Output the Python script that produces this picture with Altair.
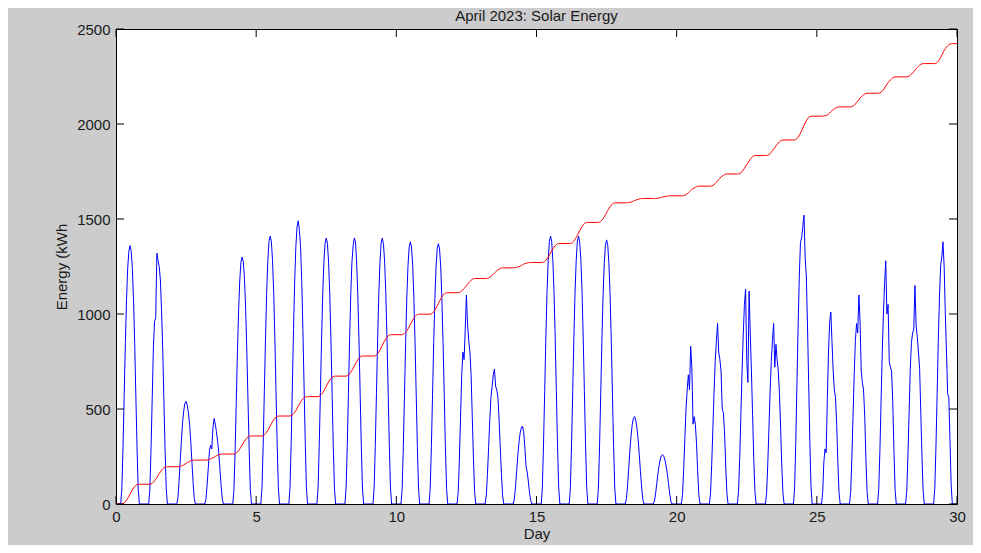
import altair as alt
import pandas as pd

# ---------------- data ----------------
days = list(range(30))
hours = list(range(5, 20))  # daylight hours with non-zero output

# hourly solar output (h5 .. h19) for each day of April 2023
blue_profiles = [
    [80, 300, 570, 845, 1075, 1240, 1330, 1360, 1330, 1240, 1075, 845, 570, 300, 80],
    [80, 290, 555, 820, 960, 980, 1320, 1280, 1250, 1180, 1020, 810, 550, 290, 80],
    [30, 120, 230, 335, 430, 490, 530, 540, 520, 480, 420, 330, 220, 115, 30],
    [25, 100, 190, 280, 310, 290, 400, 450, 420, 380, 330, 270, 180, 95, 25],
    [78, 286, 546, 806, 1027, 1183, 1274, 1300, 1274, 1183, 1027, 806, 546, 286, 78],
    [85, 310, 592, 874, 1114, 1283, 1382, 1410, 1382, 1283, 1114, 874, 592, 310, 85],
    [89, 328, 626, 924, 1177, 1356, 1460, 1490, 1440, 1356, 1177, 924, 626, 328, 89],
    [84, 308, 588, 868, 1106, 1274, 1372, 1400, 1372, 1274, 1106, 868, 588, 308, 84],
    [84, 308, 588, 868, 1106, 1274, 1360, 1400, 1380, 1274, 1106, 868, 588, 308, 84],
    [84, 308, 588, 868, 1106, 1274, 1375, 1400, 1365, 1274, 1106, 868, 588, 308, 84],
    [83, 304, 580, 856, 1090, 1256, 1352, 1380, 1352, 1256, 1090, 856, 580, 304, 83],
    [82, 301, 575, 849, 1082, 1247, 1343, 1370, 1343, 1247, 1082, 849, 575, 301, 82],
    [66, 242, 462, 682, 800, 760, 920, 1100, 940, 860, 800, 682, 462, 242, 66],
    [43, 156, 298, 440, 560, 620, 680, 710, 620, 600, 560, 440, 298, 156, 43],
    [25, 90, 172, 254, 324, 373, 400, 410, 380, 300, 200, 170, 120, 60, 20],
    [85, 310, 592, 874, 1114, 1283, 1382, 1410, 1382, 1283, 1114, 874, 592, 310, 85],
    [85, 310, 592, 874, 1114, 1283, 1385, 1410, 1378, 1283, 1114, 874, 592, 310, 85],
    [83, 306, 584, 862, 1098, 1265, 1362, 1390, 1362, 1265, 1098, 862, 584, 306, 83],
    [28, 101, 193, 285, 363, 419, 451, 460, 440, 400, 340, 260, 170, 90, 25],
    [16, 57, 109, 161, 205, 237, 255, 260, 250, 230, 200, 160, 108, 56, 15],
    [50, 180, 340, 500, 600, 680, 600, 830, 720, 420, 460, 420, 320, 170, 45],
    [57, 209, 399, 589, 751, 860, 950, 800, 760, 700, 500, 480, 380, 200, 55],
    [68, 249, 475, 700, 890, 1050, 1130, 750, 640, 1120, 900, 700, 470, 240, 65],
    [57, 209, 399, 589, 750, 860, 950, 720, 840, 760, 700, 580, 400, 200, 55],
    [91, 334, 638, 942, 1200, 1380, 1400, 1460, 1520, 1300, 1200, 942, 638, 334, 91],
    [60, 220, 290, 270, 560, 800, 960, 1010, 850, 700, 600, 560, 420, 220, 60],
    [66, 242, 462, 682, 860, 950, 900, 1100, 960, 700, 640, 600, 462, 242, 66],
    [77, 282, 538, 794, 1000, 1160, 1280, 1000, 1050, 750, 720, 700, 538, 282, 77],
    [69, 253, 483, 713, 850, 900, 920, 1150, 940, 880, 800, 713, 483, 253, 69],
    [83, 304, 580, 856, 1090, 1256, 1300, 1380, 1250, 1000, 800, 580, 560, 330, 100],
]

# cumulative energy at the end of each day (red curve plateaus)
red_plateaus = [104, 196, 231, 263, 358, 463, 565, 673, 779, 891,
                999, 1112, 1187, 1243, 1271, 1371, 1482, 1585, 1608, 1622,
                1673, 1737, 1834, 1916, 2041, 2090, 2162, 2248, 2318, 2423]

x_ticks = [0, 5, 10, 15, 20, 25, 30]
y_ticks = [0, 500, 1000, 1500, 2000, 2500]

# ---------------- build tables ----------------
blue_rows = [{"day": 0.0, "energy": 0}]
red_rows = [{"day": 0.0, "energy": 0}]
prev = 0
for d, prof in zip(days, blue_profiles):
    blue_rows.append({"day": d + 4 / 24, "energy": 0})
    red_rows.append({"day": d + 4 / 24, "energy": prev})
    total = sum(prof)
    inc = red_plateaus[d] - prev
    run = 0
    for h, v in zip(hours, prof):
        blue_rows.append({"day": d + h / 24, "energy": v})
        run += v
        red_rows.append({"day": d + h / 24, "energy": prev + inc * (run - v / 2) / total})
    blue_rows.append({"day": d + 20 / 24, "energy": 0})
    red_rows.append({"day": d + 20 / 24, "energy": red_plateaus[d]})
    prev = red_plateaus[d]
blue_rows.append({"day": 30.0, "energy": 0})
red_rows.append({"day": 30.0, "energy": prev})

blue_df = pd.DataFrame(blue_rows)
red_df = pd.DataFrame(red_rows)
xt_df = pd.DataFrame({"day": x_ticks})
yt_df = pd.DataFrame({"energy": y_ticks})

W, H = 841, 475
FONT = "Liberation Sans"
TXT = "#1a1a1a"
xscale = alt.Scale(domain=[0, 30], nice=False, zero=False)
yscale = alt.Scale(domain=[0, 2500], nice=False)

x_axis = alt.Axis(values=x_ticks, format="d", ticks=False, domain=False, grid=False,
                  labelFlush=False, labelPadding=5, labelFontSize=15, labelFont=FONT,
                  labelColor=TXT, title="Day", titleFont=FONT,
                  titleFontSize=15, titleFontWeight="normal",
                  titleColor=TXT, titlePadding=2)
y_axis = alt.Axis(values=y_ticks, format="d", ticks=False, domain=False, grid=False,
                  labelFlush=False, labelPadding=6, labelFontSize=15, labelFont=FONT,
                  labelColor=TXT, title="Energy (kWh", titleFont=FONT,
                  titleFontSize=15, titleFontWeight="normal",
                  titleColor=TXT, titleX=-55, titleY=H / 2,
                  titleAngle=270, titleAlign="center", titleBaseline="middle")

X = alt.X("day:Q", scale=xscale, axis=x_axis)
Y = alt.Y("energy:Q", scale=yscale, axis=y_axis)

blue = alt.Chart(blue_df).mark_line(color="#0000ff", strokeWidth=1, clip=True).encode(x=X, y=Y)
red = alt.Chart(red_df).mark_line(color="#ff0000", strokeWidth=1, clip=True).encode(x=X, y=Y)

tick_style = dict(color="black", strokeWidth=1)
bottom_ticks = alt.Chart(xt_df).mark_rule(**tick_style).encode(
    x=X, y=alt.value(H), y2=alt.value(H - 8))
top_ticks = alt.Chart(xt_df).mark_rule(**tick_style).encode(
    x=X, y=alt.value(0), y2=alt.value(8))
left_ticks = alt.Chart(yt_df).mark_rule(**tick_style).encode(
    y=Y, x=alt.value(0), x2=alt.value(8))
right_ticks = alt.Chart(yt_df).mark_rule(**tick_style).encode(
    y=Y, x=alt.value(W), x2=alt.value(W - 8))

chart = alt.layer(
    blue, red, bottom_ticks, top_ticks, left_ticks, right_ticks
).properties(
    width=W, height=H,
    title=alt.TitleParams("April 2023: Solar Energy", font=FONT, fontSize=15,
                          fontWeight="normal", color=TXT, offset=-2,
                          anchor="middle"),
    autosize=alt.AutoSizeParams(type="none"),
    padding={"left": 108, "top": 21, "right": 16, "bottom": 41},
    background="#cccccc",
).configure_view(fill="white", stroke="black", strokeWidth=1)

chart.save("out.html", embed_options={"renderer": "svg", "actions": False})
